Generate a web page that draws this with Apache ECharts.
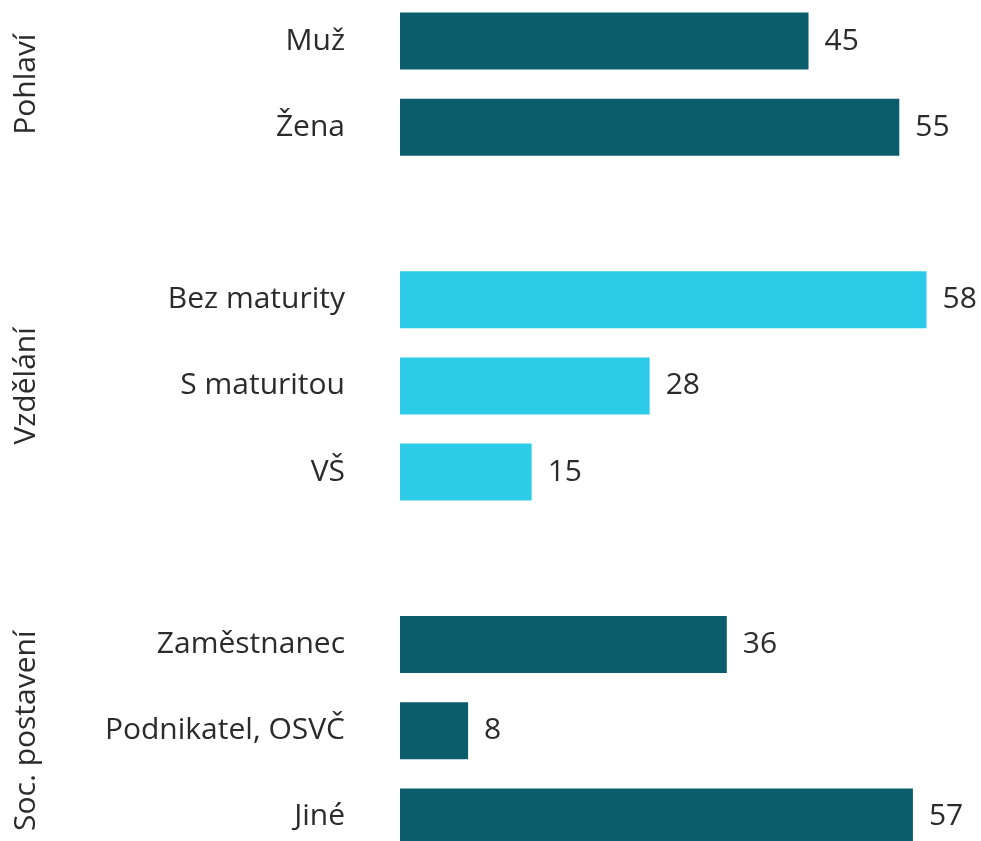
<!DOCTYPE html>
<html>
<head>
<meta charset="utf-8">
<script src="https://cdn.jsdelivr.net/npm/echarts@6/dist/echarts.min.js"></script>
<style>
html,body{margin:0;padding:0;background:#fff;}
#c{width:981px;height:841px;}
</style>
</head>
<body>
<div id="c"></div>
<script>
// Categories (blank entries are the gaps between groups)
const categories = ['Muž', 'Žena', '', 'Bez maturity', 'S maturitou', 'VŠ', '', 'Zaměstnanec', 'Podnikatel, OSVČ', 'Jiné'];
const pohlaviValues = [45.0, 55.0];
const vzdelaniValues = [58.0, 27.5, 14.5];
const socValues = [36.0, 7.5, 56.5];
const groupNames = ['Pohlaví', 'Vzdělání', 'Soc. postavení'];
const groupCenters = [['Muž', 'Žena'], ['S maturitou', 'S maturitou'], ['Podnikatel, OSVČ', 'Podnikatel, OSVČ']];

const darkTeal = '#0C5D6C';
const cyan = '#2CCCE8';
const textColor = '#2b2b2b';
const FONT = '"Open Sans", "Noto Sans", sans-serif';

function buildData() {
  const out = [];
  const put = (vals, color) => vals.forEach(v => out.push({ value: v, itemStyle: { color } }));
  put(pohlaviValues, darkTeal);
  out.push('-');
  put(vzdelaniValues, cyan);
  out.push('-');
  put(socValues, darkTeal);
  return out;
}

const chart = echarts.init(document.getElementById('c'), null, { renderer: 'canvas' });
chart.setOption({
  animation: false,
  grid: { left: 400, right: 0, top: -2, bottom: -19, containLabel: false, outerBoundsMode: 'none' },
  xAxis: {
    type: 'value', min: 0, max: 64,
    show: false
  },
  yAxis: {
    type: 'category', data: categories, inverse: true,
    axisLine: { show: false }, axisTick: { show: false }, splitLine: { show: false },
    axisLabel: { color: textColor, fontSize: 30, fontFamily: FONT, margin: 55 }
  },
  series: [{
    type: 'bar',
    data: buildData(),
    barWidth: 57,
    label: {
      show: true, position: 'right', distance: 16,
      color: textColor, fontSize: 30, fontFamily: FONT,
      formatter: p => Math.round(p.value)
    }
  }]
});

const graphics = groupNames.map((name, i) => {
  const y0 = chart.convertToPixel({ yAxisIndex: 0 }, groupCenters[i][0]);
  const y1 = chart.convertToPixel({ yAxisIndex: 0 }, groupCenters[i][1]);
  return {
    type: 'text',
    x: 26, y: (y0 + y1) / 2,
    rotation: Math.PI / 2,
    style: {
      text: name, fill: textColor, fontSize: 30, fontFamily: FONT,
      align: 'center', verticalAlign: 'middle'
    }
  };
});
chart.setOption({ graphic: graphics });
</script>
</body>
</html>
